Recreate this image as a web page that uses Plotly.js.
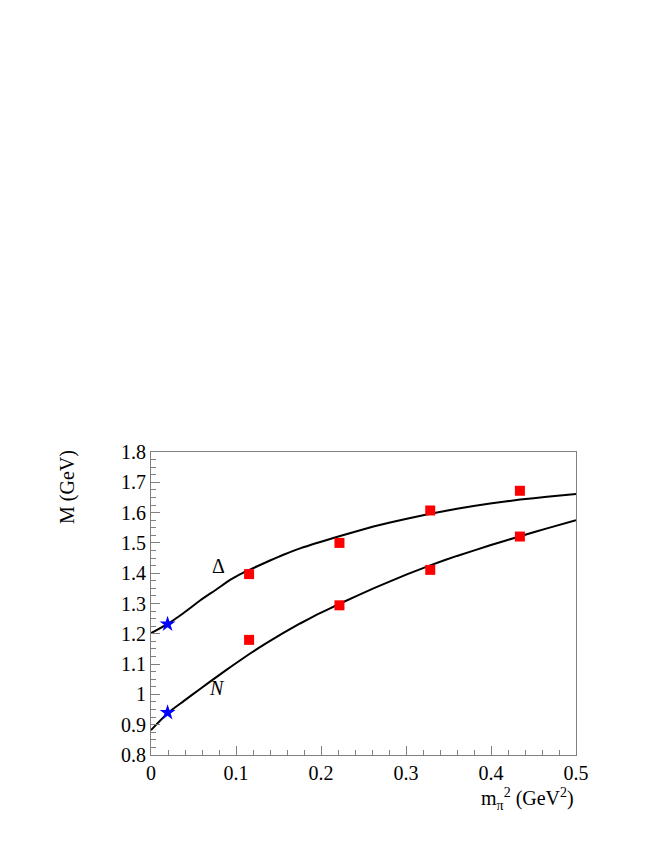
<!DOCTYPE html>
<html>
<head>
<meta charset="utf-8">
<script src="https://cdn.plot.ly/plotly-3.0.1.min.js"></script>
<style>
  html, body { margin: 0; padding: 0; background: #fff; }
  #plot { width: 654px; height: 846px; }
</style>
</head>
<body>
<div id="plot"></div>
<script>
// lattice points (red squares)
const latX = [0.1154, 0.2217, 0.3285, 0.434];
const latDelta = [1.397, 1.500, 1.607, 1.672];
const latN = [1.180, 1.294, 1.411, 1.521];

// physical points (blue stars)
const physX = [0.0195, 0.0195];
const physM = [1.232, 0.940];

// fitted curves
const deltaX = [0, 0.0192, 0.038, 0.0577, 0.0773, 0.093, 0.1087, 0.1244, 0.140, 0.1558, 0.1754,
                0.2225, 0.2617, 0.301, 0.3285, 0.36, 0.399, 0.4344, 0.4659, 0.5];
const deltaM = [1.202, 1.232, 1.268, 1.310, 1.347, 1.378, 1.402, 1.422, 1.442, 1.461, 1.482,
                1.523, 1.554, 1.580, 1.596, 1.613, 1.630, 1.643, 1.652, 1.661];
const nucX = [0, 0.0204, 0.038, 0.0577, 0.0773, 0.0969, 0.1166, 0.1362, 0.1558, 0.1754, 0.1951,
              0.2225, 0.2617, 0.301, 0.3285, 0.36, 0.399, 0.4344, 0.4659, 0.5];
const nucM = [0.882, 0.940, 0.977, 1.018, 1.058, 1.097, 1.135, 1.170, 1.203, 1.234, 1.263,
              1.300, 1.350, 1.396, 1.426, 1.457, 1.492, 1.522, 1.548, 1.575];

const font = 'Liberation Serif';

const traces = [
  { x: deltaX, y: deltaM, type: 'scatter', mode: 'lines',
    line: { color: 'black', width: 2, shape: 'spline', smoothing: 0.4 }, hoverinfo: 'skip' },
  { x: nucX, y: nucM, type: 'scatter', mode: 'lines',
    line: { color: 'black', width: 2, shape: 'spline', smoothing: 0.4 }, hoverinfo: 'skip' },
  { x: latX, y: latDelta, type: 'scatter', mode: 'markers',
    marker: { symbol: 'square', size: 10, color: '#ff0000' } },
  { x: latX, y: latN, type: 'scatter', mode: 'markers',
    marker: { symbol: 'square', size: 10, color: '#ff0000' } },
  { x: physX, y: physM, type: 'scatter', mode: 'markers',
    marker: { symbol: 'star', size: 12, color: '#0000ff' } }
];

const axisCommon = {
  showgrid: false, zeroline: false,
  showline: true, linecolor: '#808080', linewidth: 1, mirror: true,
  ticks: 'inside', tickcolor: '#808080', ticklen: 9,
  tickfont: { family: font, size: 20, color: 'black' }
};

const layout = {
  width: 654, height: 846,
  margin: { l: 151, r: 78, t: 452, b: 91 },
  paper_bgcolor: 'white', plot_bgcolor: 'white',
  showlegend: false,
  xaxis: Object.assign({}, axisCommon, {
    range: [0, 0.5], dtick: 0.1, tick0: 0,
    minor: { dtick: 0.02, ticks: 'inside', ticklen: 5, tickcolor: '#808080' }
  }),
  yaxis: Object.assign({}, axisCommon, {
    range: [0.8, 1.8], dtick: 0.1, tick0: 0.8,
    minor: { dtick: 0.025, ticks: 'inside', ticklen: 5, tickcolor: '#808080' }
  }),
  annotations: [
    { text: 'M (GeV)', xref: 'paper', yref: 'paper', x: -0.195, y: 0.885,
      textangle: -90, showarrow: false, xanchor: 'center', yanchor: 'middle',
      font: { family: font, size: 20, color: 'black' } },
    { text: 'm<sub>π</sub><sup>2</sup> (GeV<sup>2</sup>)', xref: 'paper', yref: 'paper',
      x: 1, y: -0.145, xanchor: 'right', yanchor: 'middle', showarrow: false,
      font: { family: font, size: 20, color: 'black' } },
    { text: 'Δ', xref: 'x', yref: 'y', x: 0.079, y: 1.424, showarrow: false,
      font: { family: font, size: 20, color: 'black' } },
    { text: '<i>N</i>', xref: 'x', yref: 'y', x: 0.078, y: 1.021, showarrow: false,
      font: { family: font, size: 20, color: 'black' } }
  ]
};

Plotly.newPlot('plot', traces, layout, { displayModeBar: false, staticPlot: true });
</script>
</body>
</html>
